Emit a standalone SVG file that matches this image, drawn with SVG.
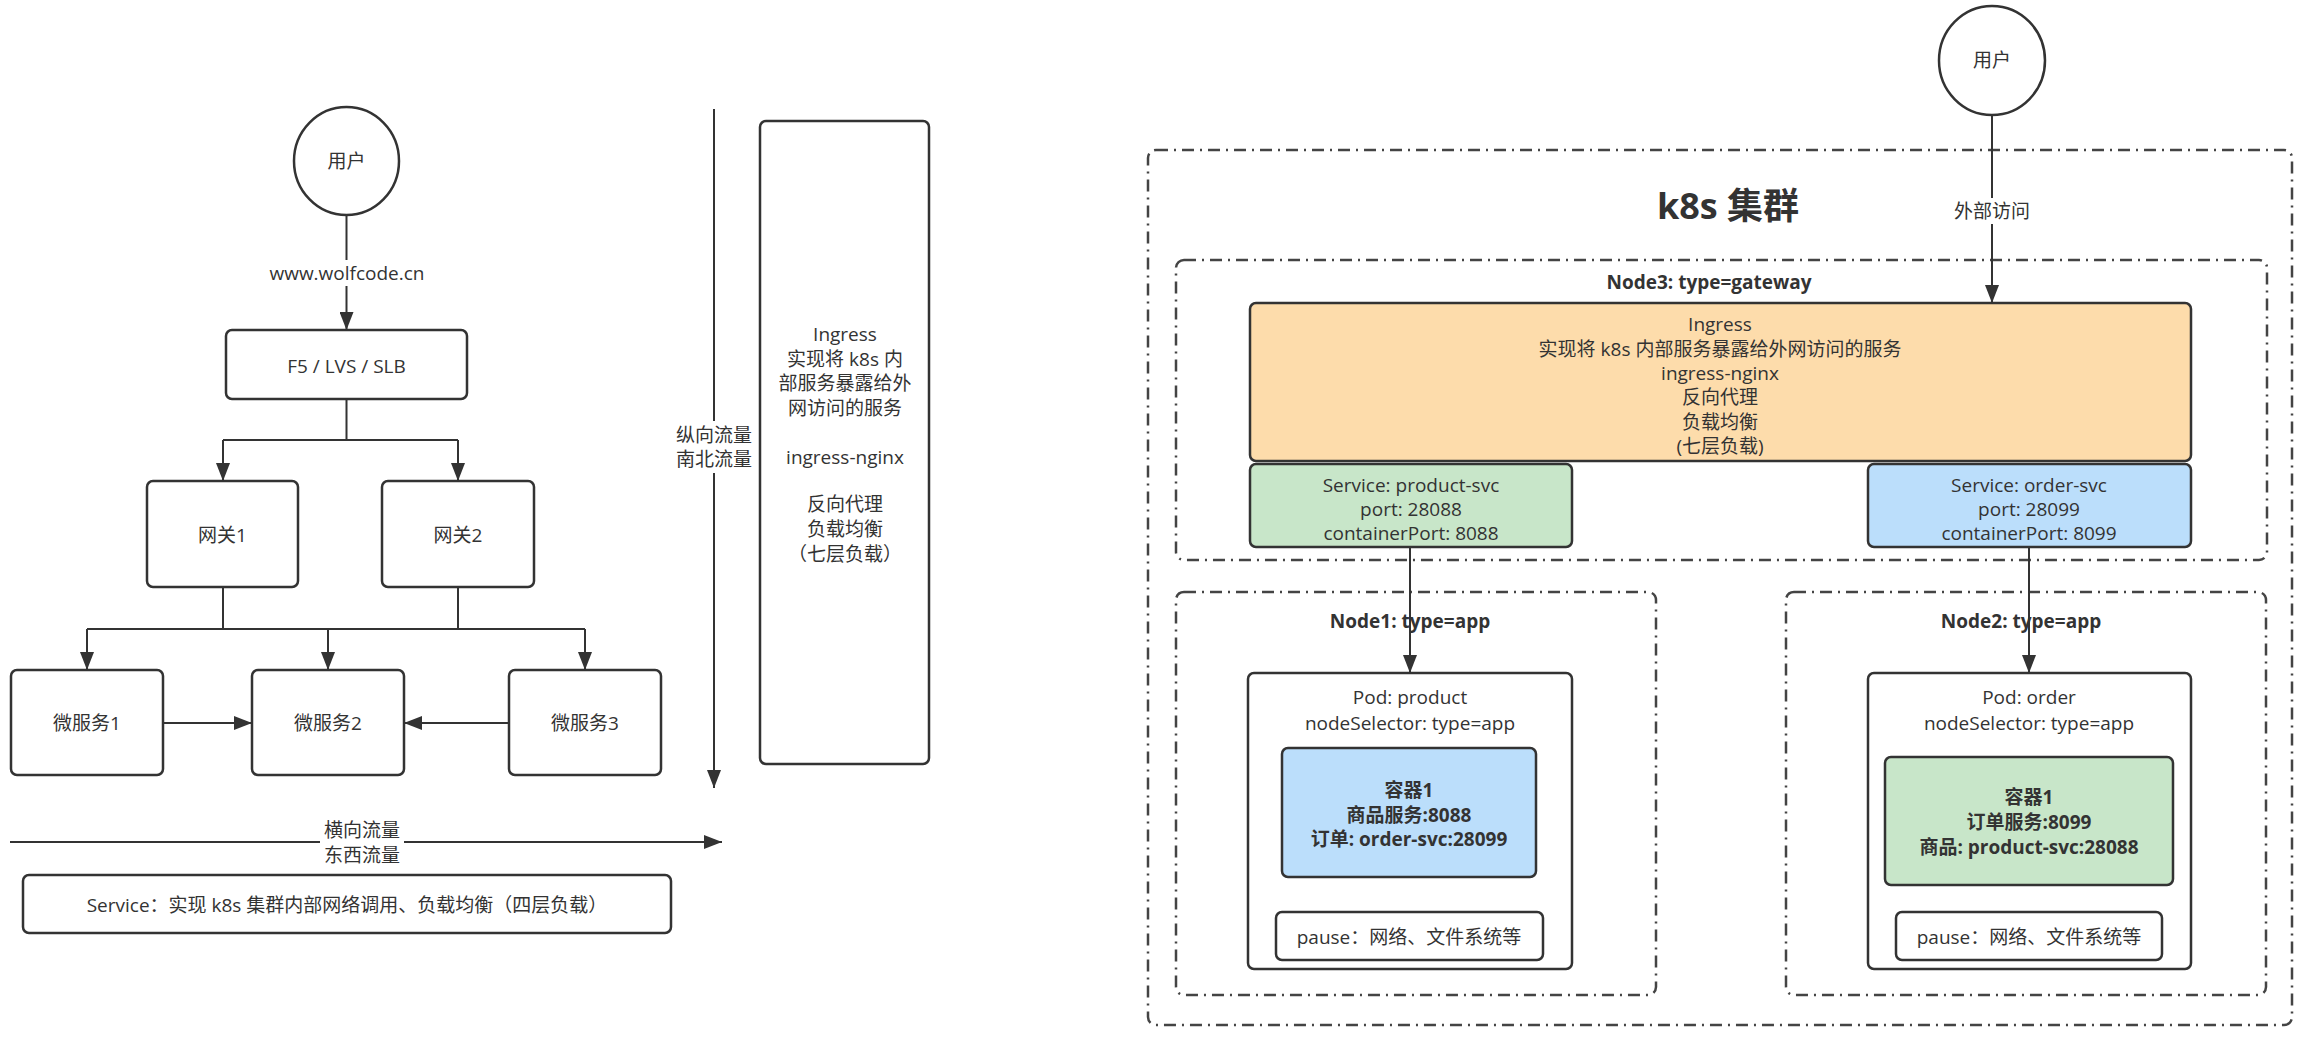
<svg xmlns="http://www.w3.org/2000/svg" width="2301" height="1037" viewBox="0 0 2301 1037">
<style>
text{font-family:"Open Sans","Noto Sans CJK SC",sans-serif;font-size:19px;fill:#333;text-anchor:middle;dominant-baseline:central}
.b{font-weight:bold}
.box{fill:#fff;stroke:#333;stroke-width:2.5}
.dd{fill:none;stroke:#444;stroke-width:2.5;stroke-dasharray:12 6 2 6}
.ln{fill:none;stroke:#333;stroke-width:2}
.arr{fill:none;stroke:#333;stroke-width:2;marker-end:url(#ah)}
.lbl{fill:#fff;stroke:none}
</style>
<defs>
<marker id="ah" viewBox="0 0 18 14" refX="18" refY="7" markerWidth="18" markerHeight="14" markerUnits="userSpaceOnUse" orient="auto"><path d="M0,0 L18,7 L0,14 Z" fill="#333"/></marker>
</defs>
<rect width="2301" height="1037" fill="#fff"/>

<!-- left diagram nodes -->
<g id="user-left"><ellipse cx="346.5" cy="161" rx="52.5" ry="54" class="box"/><text x="346.5" y="161">用户</text></g>
<g id="lb"><rect x="226" y="330" width="241" height="69" rx="6" class="box"/><text x="346.5" y="366">F5 / LVS / SLB</text></g>
<g id="gw1"><rect x="147" y="481" width="151" height="106" rx="6" class="box"/><text x="222.5" y="535">网关1</text></g>
<g id="gw2"><rect x="382" y="481" width="152" height="106" rx="6" class="box"/><text x="458" y="535">网关2</text></g>
<g id="ms1"><rect x="11" y="670" width="152" height="105" rx="6" class="box"/><text x="87" y="723">微服务1</text></g>
<g id="ms2"><rect x="252" y="670" width="152" height="105" rx="6" class="box"/><text x="328" y="723">微服务2</text></g>
<g id="ms3"><rect x="509" y="670" width="152" height="105" rx="6" class="box"/><text x="585" y="723">微服务3</text></g>
<g id="ingress-left"><rect x="760" y="121" width="169" height="643" rx="6" class="box"/>
<text x="845" y="334">Ingress</text><text x="845" y="359">实现将 k8s 内</text><text x="845" y="383">部服务暴露给外</text><text x="845" y="408">网访问的服务</text>
<text x="845" y="457">ingress-nginx</text>
<text x="845" y="504">反向代理</text><text x="845" y="529">负载均衡</text><text x="845" y="554">（七层负载）</text></g>
<g id="service-left"><rect x="23" y="875" width="648" height="58" rx="6" class="box"/><text x="347" y="905">Service：实现 k8s 集群内部网络调用、负载均衡（四层负载）</text></g>

<!-- right diagram containers -->
<g id="cluster"><rect x="1148" y="150" width="1144" height="875" rx="8" class="dd"/><text x="1728" y="205" class="b" style="font-size:36px">k8s 集群</text></g>
<g id="node3"><rect x="1176" y="260" width="1091" height="300" rx="8" class="dd"/><text x="1709" y="282" class="b">Node3: type=gateway</text></g>
<g id="node1"><rect x="1176" y="592" width="480" height="403" rx="8" class="dd"/><text x="1410" y="621" class="b">Node1: type=app</text></g>
<g id="node2"><rect x="1786" y="592" width="480" height="403" rx="8" class="dd"/><text x="2021" y="621" class="b">Node2: type=app</text></g>
<g id="user-right"><ellipse cx="1992" cy="60.5" rx="53" ry="54.5" class="box"/><text x="1992" y="60">用户</text></g>
<g id="ingress-right"><rect x="1250" y="303" width="941" height="158" rx="6" class="box" style="fill:#fddcab"/>
<text x="1720" y="324">Ingress</text><text x="1720" y="349">实现将 k8s 内部服务暴露给外网访问的服务</text><text x="1720" y="373">ingress-nginx</text><text x="1720" y="397">反向代理</text><text x="1720" y="422">负载均衡</text><text x="1720" y="446">(七层负载)</text></g>
<g id="svc-product"><rect x="1250" y="464" width="322" height="83" rx="6" class="box" style="fill:#c8e6c9"/>
<text x="1411" y="485">Service: product-svc</text><text x="1411" y="509">port: 28088</text><text x="1411" y="533">containerPort: 8088</text></g>
<g id="svc-order"><rect x="1868" y="464" width="323" height="83" rx="6" class="box" style="fill:#bbdefb"/>
<text x="2029" y="485">Service: order-svc</text><text x="2029" y="509">port: 28099</text><text x="2029" y="533">containerPort: 8099</text></g>
<g id="pod-product"><rect x="1248" y="673" width="324" height="296" rx="6" class="box"/>
<text x="1410" y="697">Pod: product</text><text x="1410" y="723">nodeSelector: type=app</text></g>
<g id="container-product"><rect x="1282" y="748" width="254" height="129" rx="6" class="box" style="fill:#bbdefb"/>
<text x="1409" y="790" class="b">容器1</text><text x="1409" y="815" class="b">商品服务:8088</text><text x="1409" y="839" class="b">订单: order-svc:28099</text></g>
<g id="pause-product"><rect x="1276" y="912" width="267" height="48" rx="6" class="box"/><text x="1409" y="937">pause：网络、文件系统等</text></g>
<g id="pod-order"><rect x="1868" y="673" width="323" height="296" rx="6" class="box"/>
<text x="2029" y="697">Pod: order</text><text x="2029" y="723">nodeSelector: type=app</text></g>
<g id="container-order"><rect x="1885" y="757" width="288" height="128" rx="6" class="box" style="fill:#c8e6c9"/>
<text x="2029" y="797" class="b">容器1</text><text x="2029" y="822" class="b">订单服务:8099</text><text x="2029" y="847" class="b">商品: product-svc:28088</text></g>
<g id="pause-order"><rect x="1896" y="912" width="266" height="48" rx="6" class="box"/><text x="2029" y="937">pause：网络、文件系统等</text></g>

<!-- connectors -->
<g id="connectors">
<path d="M346.5 215 V330" class="arr"/>
<rect x="262" y="260" width="170" height="26" class="lbl"/><text x="347" y="273">www.wolfcode.cn</text>
<path d="M346.5 399 V440 M223 440 H458" class="ln"/>
<path d="M223 440 V481" class="arr"/><path d="M458 440 V481" class="arr"/>
<path d="M223 587 V629 M458 587 V629 M87 629 H585" class="ln"/>
<path d="M87 629 V670" class="arr"/><path d="M328 629 V670" class="arr"/><path d="M585 629 V670" class="arr"/>
<path d="M163 723 H252" class="arr"/><path d="M509 723 H404" class="arr"/>
<path d="M714 109 V788" class="arr"/>
<rect x="673" y="421" width="82" height="52" class="lbl"/><text x="714" y="435">纵向流量</text><text x="714" y="459">南北流量</text>
<path d="M10 842 H722" class="arr"/>
<rect x="320" y="817" width="84" height="52" class="lbl"/><text x="362" y="830">横向流量</text><text x="362" y="855">东西流量</text>
<path d="M1992 115 V303" class="arr"/>
<rect x="1950" y="198" width="84" height="26" class="lbl"/><text x="1992" y="211">外部访问</text>
<path d="M1410 547 V673" class="arr"/>
<path d="M2029 547 V673" class="arr"/>
</g>
</svg>
